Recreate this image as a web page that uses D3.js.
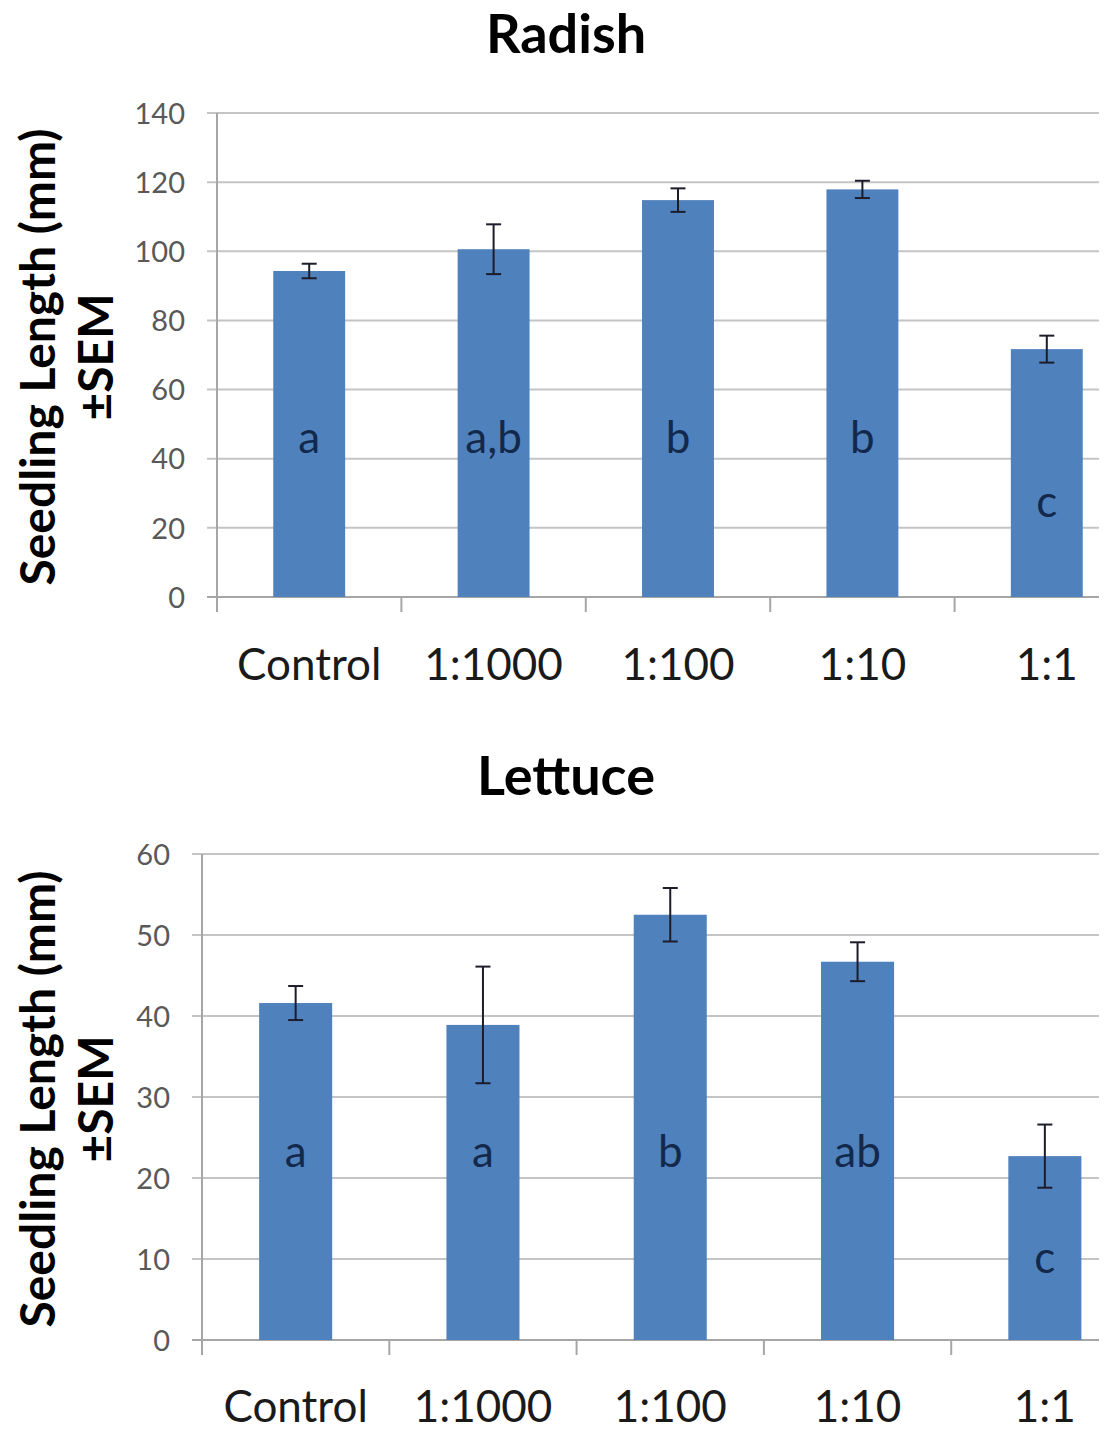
<!DOCTYPE html>
<html>
<head>
<meta charset="utf-8">
<script src="https://cdn.jsdelivr.net/npm/d3@7"></script>
<style>
  html, body { margin: 0; padding: 0; background: #fff; overflow: hidden; }
  svg { display: block; }
</style>
</head>
<body>
<svg id="fig" width="1106" height="1433"></svg>
<script>
// Treatments (dilution of the extract)
const categories = ["Control", "1:1000", "1:100", "1:10", "1:1"];

// Radish seedling length, mean and SEM (mm)
const radishMean = [94.3, 100.6, 114.8, 117.9, 71.7];
const radishSem = [2.1, 7.2, 3.4, 2.5, 3.9];
const radishGroups = ["a", "a,b", "b", "b", "c"];
const radishGroupAt = [41.7, 41.7, 41.7, 41.7, 23];
const radishTicks = [0, 20, 40, 60, 80, 100, 120, 140];

// Lettuce seedling length, mean and SEM (mm)
const lettuceMean = [41.6, 38.9, 52.5, 46.7, 22.7];
const lettuceSem = [2.1, 7.2, 3.3, 2.4, 3.9];
const lettuceGroups = ["a", "a", "b", "ab", "c"];
const lettuceGroupAt = [21.4, 21.4, 21.4, 21.4, 8.3];
const lettuceTicks = [0, 10, 20, 30, 40, 50, 60];

const svg = d3.select("#fig");
const FONT = "Lato, 'Open Sans', sans-serif";

function panel(opt) {
  const { title, mean, sem, groups, groupAt, ticks, left, top, bottom, step, right, titleY, labelY } = opt;
  const g = svg.append("g");

  const x = d3.scaleBand().domain(categories).range([left, left + step * categories.length]).padding(0);
  const y = d3.scaleLinear().domain([0, d3.max(ticks)]).range([bottom, top]);
  const barW = x.bandwidth() * 0.39;

  // title
  g.append("text")
    .attr("x", 566).attr("y", titleY)
    .attr("text-anchor", "middle")
    .attr("font-family", FONT).attr("font-weight", 700).attr("font-size", 54)
    .attr("fill", "#000")
    .text(title);

  // horizontal gridlines with short outside ticks
  g.append("g").selectAll("line").data(ticks).join("line")
    .attr("x1", left - 10).attr("x2", right)
    .attr("y1", d => y(d)).attr("y2", d => y(d))
    .attr("stroke", d => d === 0 ? "#a6a6a6" : "#c4c4c4")
    .attr("stroke-width", 2);

  // y axis labels
  const yAxis = g.append("g")
    .attr("transform", `translate(${left - 32},0)`)
    .call(d3.axisLeft(y).tickValues(ticks).tickSize(0).tickPadding(0));
  yAxis.select(".domain").remove();
  yAxis.selectAll("text")
    .attr("font-family", FONT).attr("font-size", 29).attr("fill", "#595959")
    .attr("dy", "0.35em");

  // y axis line
  g.append("line")
    .attr("x1", left).attr("x2", left)
    .attr("y1", top).attr("y2", bottom + 15)
    .attr("stroke", "#a6a6a6").attr("stroke-width", 2);

  // category boundary ticks below the baseline
  const bounds = categories.slice(1).map(c => x(c));
  g.append("g").selectAll("line").data(bounds).join("line")
    .attr("x1", d => d).attr("x2", d => d)
    .attr("y1", bottom).attr("y2", bottom + 15)
    .attr("stroke", "#a6a6a6").attr("stroke-width", 2);

  // bars
  const data = categories.map((c, i) => ({ c, m: mean[i], s: sem[i], grp: groups[i], at: groupAt[i] }));
  const cx = d => x(d.c) + x.bandwidth() / 2;

  g.append("g").selectAll("rect").data(data).join("rect")
    .attr("x", d => cx(d) - barW / 2)
    .attr("width", barW)
    .attr("y", d => y(d.m))
    .attr("height", d => y(0) - y(d.m))
    .attr("fill", "#4f81bd");

  // error bars (± SEM)
  const eb = g.append("g").selectAll("g").data(data).join("g")
    .attr("stroke", "#1c1c2a").attr("stroke-width", 2);
  eb.append("line")
    .attr("x1", cx).attr("x2", cx)
    .attr("y1", d => y(d.m + d.s)).attr("y2", d => y(d.m - d.s));
  eb.append("line")
    .attr("x1", d => cx(d) - 7.5).attr("x2", d => cx(d) + 7.5)
    .attr("y1", d => y(d.m + d.s)).attr("y2", d => y(d.m + d.s));
  eb.append("line")
    .attr("x1", d => cx(d) - 7.5).attr("x2", d => cx(d) + 7.5)
    .attr("y1", d => y(d.m - d.s)).attr("y2", d => y(d.m - d.s));

  // significance group letters
  g.append("g").selectAll("text").data(data).join("text")
    .attr("x", cx).attr("y", d => y(d.at))
    .attr("text-anchor", "middle")
    .attr("font-family", FONT).attr("font-size", 44)
    .attr("fill", "#13294b")
    .text(d => d.grp);

  // category labels
  g.append("g").selectAll("text").data(categories).join("text")
    .attr("x", c => x(c) + x.bandwidth() / 2).attr("y", labelY)
    .attr("text-anchor", "middle")
    .attr("font-family", FONT).attr("font-size", 44)
    .attr("fill", "#1a1a1a")
    .text(c => c);

  // y axis title (two lines)
  const mid = (top + bottom) / 2 + 2;
  [["Seedling Length (mm)", 55], ["±SEM", 113]].forEach(([t, bx]) => {
    g.append("text")
      .attr("transform", `translate(${bx},${mid}) rotate(-90)`)
      .attr("text-anchor", "middle")
      .attr("font-family", FONT).attr("font-weight", 700).attr("font-size", 48)
      .attr("fill", "#000")
      .text(t);
  });
}

panel({
  title: "Radish", mean: radishMean, sem: radishSem, groups: radishGroups, groupAt: radishGroupAt,
  ticks: radishTicks, left: 217, top: 113, bottom: 597, step: 184.4, right: 1099,
  titleY: 53, labelY: 680
});

panel({
  title: "Lettuce", mean: lettuceMean, sem: lettuceSem, groups: lettuceGroups, groupAt: lettuceGroupAt,
  ticks: lettuceTicks, left: 202, top: 854, bottom: 1340, step: 187.3, right: 1099,
  titleY: 795, labelY: 1422
});
</script>
</body>
</html>
